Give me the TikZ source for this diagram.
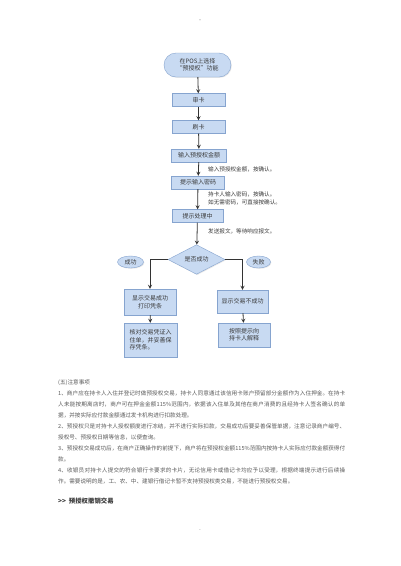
\documentclass[tikz,border=0pt]{standalone}
\usepackage{fontspec}
\setmainfont{Noto Sans CJK SC}
\usepackage{tikz}
\usetikzlibrary{positioning,shapes.geometric,shadows}
\XeTeXlinebreaklocale "zh"
\XeTeXlinebreakskip=0pt plus 1pt
\definecolor{boxblue}{HTML}{C8DAF2}
\definecolor{edgeblue}{HTML}{86A4CF}
\definecolor{arrowgray}{HTML}{333333}
\definecolor{textgray}{HTML}{3A3A3A}
\definecolor{notegray}{HTML}{5A5A5A}

\begin{document}
\begin{tikzpicture}[x=1pt, y=-1pt, >=stealth,
  every node/.style={font=\fontsize{6}{7.4}\selectfont, text=textgray, inner sep=1pt},
  procbox/.style={draw=edgeblue, fill=boxblue, drop shadow={shadow xshift=0.8pt, shadow yshift=-0.8pt, fill=gray!35}, minimum width=53pt, minimum height=13pt, align=center},
  flow/.style={->, thick, arrowgray},
  sidenote/.style={anchor=west, align=left, font=\fontsize{5.6}{8}\selectfont}]
\useasboundingbox[fill=white] (0,0) rectangle (400,566);
\node[text=gray!60] (topmark) at (200,21) {·};
\node[procbox, rounded corners=12pt, minimum width=67pt, minimum height=24pt] (start) at (197.5,65) {在POS上选择\\“预授权”功能};
\node[procbox] (check) at (198.5,100) {审卡};
\node[procbox] (swipe) at (198.5,127) {刷卡};
\node[procbox, minimum width=55pt] (amount) at (199,155.5) {输入预授权金额};
\node[procbox] (pin) at (198,182.5) {提示输入密码};
\node[procbox, minimum width=51pt] (wait) at (197.5,216) {提示处理中};
\node[procbox, shape=diamond, minimum width=57pt, minimum height=25pt, inner sep=0pt] (judge) at (196.5,259.5) {是否成功};
\node[procbox, shape=ellipse, minimum width=26pt, minimum height=12pt, inner sep=0pt] (yes) at (130.5,262) {成功};
\node[procbox, shape=ellipse, minimum width=24pt, minimum height=12pt, inner sep=0pt] (no) at (258.5,262) {失败};
\node[procbox, minimum width=52pt, minimum height=26pt] (okshow) at (150,302) {显示交易成功\\打印凭条};
\node[procbox, minimum width=53pt, minimum height=34pt, align=left] (okkeep) at (150.5,340) {核对交易凭证入\\住单，并妥善保\\存凭条。};
\node[procbox, minimum width=51pt, minimum height=23pt] (noshow) at (242.5,301.5) {显示交易不成功};
\node[procbox, minimum width=52pt, minimum height=24pt, align=left] (noexplain) at (244,335) {按照提示向\\持卡人解释};
% notes beside the arrows
\node[sidenote] (amountnote) at (207,169) {输入预授权金额，按确认。};
\node[sidenote] (pinnote) at (207,198) {持卡人输入密码，按确认。\\如无需密码，可直接按确认。};
\node[sidenote] (waitnote) at (207,231) {发送报文，等待响应报文。};
\draw[flow] (start) -- (check);
\draw[flow] (check) -- (swipe);
\draw[flow] (swipe) -- (amount);
\draw[flow] (amount) -- (pin);
\draw[flow] (pin) -- (wait);
\draw[flow] (wait) -- (judge);
\draw[flow] (judge.west) -| (okshow);
\draw[flow] (judge.east) -| (noshow);
\draw[flow] (okshow) -- (okkeep);
\draw[flow] (noshow) -- (noexplain);
% notes under the chart
\node[anchor=north west, text width=287pt, align=justify, text=notegray, inner sep=0pt, font=\fontsize{5.6}{11}\selectfont] (notes) at (58,380) {\parindent=0pt
(五)注意事项\par
1、商户应在持卡人入住并登记时做预授权交易，持卡人同意通过该信用卡账户预留部分金额作为入住押金。在持卡人未能按期离店时，商户可在押金金额115\%范围内，依据该入住单及其他在商户消费的且经持卡人签名确认的单据，并按实际应付款金额通过发卡机构进行扣款处理。\par
2、预授权只是对持卡人授权额度进行冻结，并不进行实际扣款，交易成功后要妥善保管单据，注意记录商户编号、授权号、预授权日期等信息，以便查询。\par
3、预授权交易成功后，在商户正确操作的前提下，商户将在预授权金额115\%范围内按持卡人实际应付款金额获得付款。\par
4、收银员对持卡人提交的符合银行卡要求的卡片，无论信用卡或借记卡均应予以受理，根据终端提示进行后续操作。需要说明的是，工、农、中、建银行借记卡暂不支持预授权类交易，不能进行预授权交易。};
\node[anchor=base west, inner sep=0pt, font=\fontsize{6.4}{8}\selectfont\bfseries] (next) at (58,503) {{>}{>}\ \ 预授权撤销交易};
\node[text=gray!60] (pagemark) at (200,531) {-};
\end{tikzpicture}
\end{document}
